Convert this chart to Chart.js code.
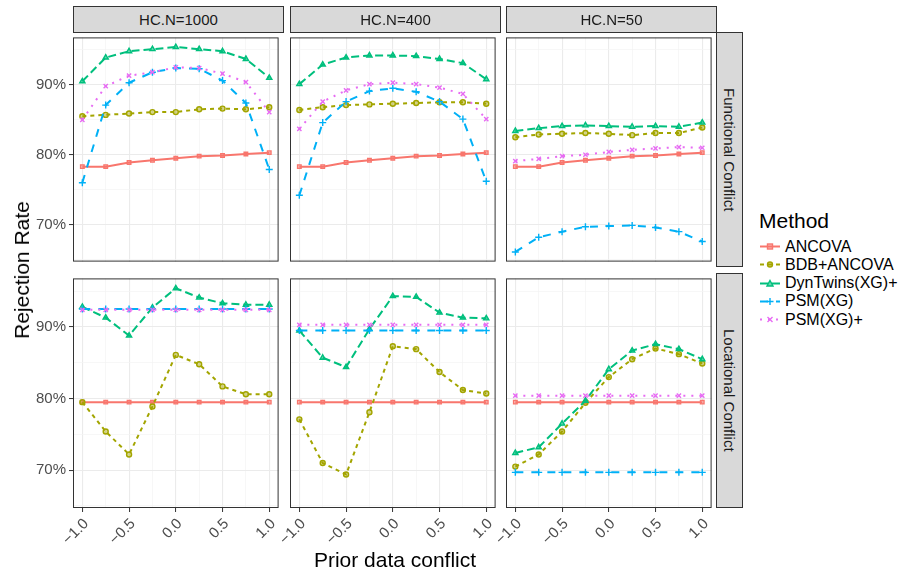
<!DOCTYPE html>
<html>
<head>
<meta charset="utf-8">
<script src="https://cdn.jsdelivr.net/npm/chart.js@4.4.1/dist/chart.umd.min.js"></script>
<style>
  body {
    margin: 0;
    width: 906px;
    height: 569px;
    position: relative;
    overflow: hidden;
    background: #ffffff;
    font-family: "Liberation Sans", Arial, sans-serif;
  }
  canvas {
    position: absolute;
  }
  .strip {
    position: absolute;
    box-sizing: border-box;
    background: #d9d9d9;
    border: 1px solid #333333;
    color: #1a1a1a;
    font-size: 15px;
    display: flex;
    align-items: center;
    justify-content: center;
  }
  .vstrip {
    writing-mode: vertical-rl;
  }
  .title {
    position: absolute;
    font-size: 21px;
    color: #000000;
    white-space: nowrap;
  }
  .legend-title {
    position: absolute;
    left: 759px;
    top: 209px;
    font-size: 21px;
    color: #000000;
  }
  .legend-item {
    position: absolute;
    left: 760px;
    height: 18px;
    display: flex;
    align-items: center;
    font-size: 16px;
    color: #000000;
    white-space: nowrap;
  }
  .legend-item svg {
    margin-right: 5px;
  }
</style>
</head>
<body>
<script>
const conflict = [-1, -0.75, -0.5, -0.25, 0, 0.25, 0.5, 0.75, 1];
const hcN = ["HC.N=1000", "HC.N=400", "HC.N=50"];
const conflictTypes = ["Functional Conflict", "Locational Conflict"];
const methods = ["ANCOVA", "BDB+ANCOVA", "DynTwins(XG)+", "PSM(XG)", "PSM(XG)+"];

const xTickValues = [-1, -0.5, 0, 0.5, 1];
const xTickLabels = ["\u22121.0", "\u22120.5", "0.0", "0.5", "1.0"];
const yTickValues = [70, 80, 90];
const yTickLabels = ["70%", "80%", "90%"];

// Functional conflict, rows are HC.N = 1000, 400, 50
const ancovaFunc = [
  [78.3, 78.3, 78.9, 79.2, 79.5, 79.8, 79.9, 80.1, 80.3],
  [78.3, 78.3, 78.9, 79.2, 79.5, 79.8, 79.9, 80.1, 80.3],
  [78.3, 78.3, 78.9, 79.2, 79.5, 79.8, 79.9, 80.1, 80.3],
];
const bdbFunc = [
  [85.5, 85.7, 85.9, 86.1, 86.1, 86.5, 86.6, 86.5, 86.8],
  [86.4, 86.8, 87.1, 87.2, 87.3, 87.4, 87.5, 87.5, 87.3],
  [82.5, 82.9, 83.0, 83.1, 83.0, 82.8, 83.1, 83.1, 83.9],
];
const dynFunc = [
  [90.5, 93.9, 94.8, 95.1, 95.4, 95.1, 94.8, 93.7, 91.0],
  [90.1, 92.9, 93.9, 94.2, 94.2, 94.1, 93.7, 93.1, 90.8],
  [83.4, 83.8, 84.1, 84.2, 84.1, 84.0, 84.1, 84.0, 84.6],
];
const psmFunc = [
  [76.0, 87.1, 90.3, 91.8, 92.4, 92.3, 90.6, 87.4, 77.9],
  [74.2, 84.6, 87.6, 89.1, 89.5, 89.0, 87.6, 85.1, 76.2],
  [66.1, 68.2, 69.0, 69.7, 69.8, 69.9, 69.6, 69.0, 67.6],
];
const psmPlusFunc = [
  [85.0, 89.8, 91.3, 91.8, 92.5, 92.4, 91.6, 90.4, 86.1],
  [83.7, 87.6, 89.2, 90.1, 90.3, 90.1, 89.6, 88.7, 85.1],
  [79.1, 79.4, 79.8, 80.0, 80.4, 80.7, 80.9, 81.1, 81.0],
];

// Locational conflict, rows are HC.N = 1000, 400, 50
const ancovaLoc = [
  [79.5, 79.5, 79.5, 79.5, 79.5, 79.5, 79.5, 79.5, 79.5],
  [79.5, 79.5, 79.5, 79.5, 79.5, 79.5, 79.5, 79.5, 79.5],
  [79.5, 79.5, 79.5, 79.5, 79.5, 79.5, 79.5, 79.5, 79.5],
];
const bdbLoc = [
  [79.5, 75.4, 72.2, 78.9, 86.1, 84.8, 81.7, 80.6, 80.6],
  [77.1, 71.0, 69.4, 78.1, 87.3, 86.9, 83.7, 81.2, 80.7],
  [70.5, 72.2, 75.4, 79.4, 83.0, 85.5, 87.0, 86.2, 84.9],
];
const dynLoc = [
  [92.8, 91.3, 88.8, 92.7, 95.4, 94.1, 93.3, 93.1, 93.1],
  [89.5, 85.7, 84.4, 89.7, 94.3, 94.2, 92.0, 91.3, 91.2],
  [72.4, 73.2, 76.5, 79.7, 84.1, 86.7, 87.6, 86.9, 85.5],
];
const psmLoc = [
  [92.5, 92.5, 92.5, 92.5, 92.5, 92.5, 92.5, 92.5, 92.5],
  [89.5, 89.5, 89.5, 89.5, 89.5, 89.5, 89.5, 89.5, 89.5],
  [69.7, 69.7, 69.7, 69.7, 69.7, 69.7, 69.7, 69.7, 69.7],
];
const psmPlusLoc = [
  [92.4, 92.4, 92.4, 92.4, 92.4, 92.4, 92.4, 92.4, 92.4],
  [90.3, 90.3, 90.3, 90.3, 90.3, 90.3, 90.3, 90.3, 90.3],
  [80.4, 80.4, 80.4, 80.4, 80.4, 80.4, 80.4, 80.4, 80.4],
];

const funcSeries = [ancovaFunc, bdbFunc, dynFunc, psmFunc, psmPlusFunc];
const locSeries = [ancovaLoc, bdbLoc, dynLoc, psmLoc, psmPlusLoc];

// styling (ggplot default hue palette)
const colors = ["#F8766D", "#A3A500", "#00BF7D", "#00B0F6", "#E76BF3"];
const fills = ["rgba(248,118,109,0.45)", "rgba(163,165,0,0.45)", "rgba(0,191,125,0.6)", "#00B0F6", "#E76BF3"];
const dashes = [[], [4, 4], [8, 4], [8, 8], [2, 6]];
const pointStyles = ["rect", "circle", "triangle", "cross", "crossRot"];
const pointRadii = [2.5, 2.5, 3, 3.5, 3];

const fontFamily = '"Liberation Sans", Arial, sans-serif';
const colLeft = [73, 290, 506];
const rowTop = [32, 273];
const panelW = 211;
const panelH = 235;
const padL = 70;
const padB = 50;
const gridX = [-1, -0.75, -0.5, -0.25, 0, 0.25, 0.5, 0.75, 1];
const gridY = [65, 70, 75, 80, 85, 90, 95];

const panelBorder = {
  id: "panelBorder",
  afterDraw(chart) {
    const a = chart.chartArea;
    const ctx = chart.ctx;
    ctx.save();
    ctx.strokeStyle = "#333333";
    ctx.lineWidth = 1;
    ctx.strokeRect(a.left + 0.5, a.top + 0.5, a.right - a.left - 1, a.bottom - a.top - 1);
    ctx.restore();
  },
};

function isMajor(list, ctx) {
  return ctx.tick ? list.indexOf(ctx.tick.value) !== -1 : true;
}

function makePanel(r, c) {
  const canvas = document.createElement("canvas");
  const w = panelW + padL;
  const h = panelH + (r === 1 ? padB : 0);
  canvas.width = w;
  canvas.height = h;
  canvas.style.left = colLeft[c] - padL + "px";
  canvas.style.top = rowTop[r] + "px";
  canvas.style.width = w + "px";
  canvas.style.height = h + "px";
  document.body.appendChild(canvas);

  const series = r === 0 ? funcSeries : locSeries;
  const datasets = [];
  for (let i = 0; i < methods.length; i++) {
    const points = [];
    for (let j = 0; j < conflict.length; j++) {
      points.push({ x: conflict[j], y: series[i][c][j] });
    }
    datasets.push({
      label: methods[i],
      data: points,
      order: methods.length - i,
      borderColor: colors[i],
      borderWidth: 2,
      borderDash: dashes[i],
      borderCapStyle: "butt",
      tension: 0,
      pointStyle: pointStyles[i],
      pointRadius: pointRadii[i],
      pointBorderWidth: 1.4,
      pointBorderColor: colors[i],
      pointBackgroundColor: fills[i],
    });
  }

  const showX = r === 1;
  const showY = c === 0;

  new Chart(canvas, {
    type: "line",
    data: { datasets: datasets },
    options: {
      responsive: false,
      animation: false,
      layout: { padding: 0 },
      plugins: {
        legend: { display: false },
        tooltip: { enabled: false },
      },
      scales: {
        x: {
          type: "linear",
          min: -1.1,
          max: 1.1,
          afterBuildTicks: (s) => {
            s.ticks = gridX.map((v) => ({ value: v }));
          },
          afterFit: (s) => {
            s.height = showX ? padB : 0;
            s.paddingLeft = 0;
            s.paddingRight = 0;
          },
          border: { display: false },
          grid: {
            color: (ctx) => (isMajor(xTickValues, ctx) ? "#EBEBEB" : "#F3F3F3"),
            lineWidth: (ctx) => (isMajor(xTickValues, ctx) ? 1.1 : 0.7),
            drawTicks: showX,
            tickLength: 4,
            tickWidth: 1,
            tickColor: (ctx) => (isMajor(xTickValues, ctx) ? "#333333" : "rgba(0,0,0,0)"),
          },
          ticks: {
            display: showX,
            autoSkip: false,
            minRotation: 45,
            maxRotation: 45,
            padding: 3,
            labelOffset: 4,
            color: "#4D4D4D",
            font: { size: 15, family: fontFamily },
            callback: (v) => {
              const k = xTickValues.indexOf(v);
              return k === -1 ? "" : xTickLabels[k];
            },
          },
        },
        y: {
          type: "linear",
          min: 64.72,
          max: 96.78,
          afterBuildTicks: (s) => {
            s.ticks = gridY.map((v) => ({ value: v }));
          },
          afterFit: (s) => {
            s.width = padL;
            s.paddingTop = 0;
            s.paddingBottom = 0;
          },
          border: { display: false },
          grid: {
            color: (ctx) => (isMajor(yTickValues, ctx) ? "#EBEBEB" : "#F3F3F3"),
            lineWidth: (ctx) => (isMajor(yTickValues, ctx) ? 1.1 : 0.7),
            drawTicks: showY,
            tickLength: 4,
            tickWidth: 1,
            tickColor: (ctx) => (isMajor(yTickValues, ctx) ? "#333333" : "rgba(0,0,0,0)"),
          },
          ticks: {
            display: showY,
            padding: 3,
            color: "#4D4D4D",
            font: { size: 15, family: fontFamily },
            callback: (v) => {
              const k = yTickValues.indexOf(v);
              return k === -1 ? "" : yTickLabels[k];
            },
          },
        },
      },
    },
    plugins: [panelBorder],
  });
}

function addDiv(cls, text, left, top, width, height) {
  const div = document.createElement("div");
  div.className = cls;
  div.textContent = text;
  div.style.left = left + "px";
  div.style.top = top + "px";
  if (width !== null) div.style.width = width + "px";
  if (height !== null) div.style.height = height + "px";
  document.body.appendChild(div);
  return div;
}

function markerSvg(i) {
  const col = colors[i];
  let mark = "";
  if (i === 0) mark = `<rect x="7.5" y="6" width="5" height="5" fill="${fills[0]}" stroke="${col}" stroke-width="1.4"/>`;
  if (i === 1) mark = `<circle cx="10" cy="8.5" r="2.5" fill="${fills[1]}" stroke="${col}" stroke-width="1.4"/>`;
  if (i === 2) mark = `<polygon points="10,5.5 13,11 7,11" fill="${fills[2]}" stroke="${col}" stroke-width="1.4"/>`;
  if (i === 3) mark = `<path d="M6.5,8.5 H13.5 M10,5 V12" stroke="${col}" stroke-width="1.4"/>`;
  if (i === 4) mark = `<path d="M7.5,6 L12.5,11 M12.5,6 L7.5,11" stroke="${col}" stroke-width="1.4"/>`;
  const dash = dashes[i].length ? `stroke-dasharray="${dashes[i].join(",")}"` : "";
  return `<svg width="20" height="17"><line x1="0" y1="8.5" x2="20" y2="8.5" stroke="${col}" stroke-width="2" ${dash}/>${mark}</svg>`;
}

function renderLegend() {
  addDiv("legend-title", "Method", 759, 209, null, null);
  const centers = [246.5, 264.8, 283.1, 301.4, 319.7];
  for (let i = 0; i < methods.length; i++) {
    const item = document.createElement("div");
    item.className = "legend-item";
    item.style.top = centers[i] - 9 + "px";
    item.innerHTML = markerSvg(i) + "<span>" + methods[i] + "</span>";
    document.body.appendChild(item);
  }
}

for (let r = 0; r < 2; r++) {
  for (let c = 0; c < 3; c++) {
    makePanel(r, c);
  }
}

for (let c = 0; c < 3; c++) {
  addDiv("strip", hcN[c], colLeft[c], 6, panelW, 27);
}
for (let r = 0; r < 2; r++) {
  addDiv("strip vstrip", conflictTypes[r], colLeft[2] + panelW - 1, rowTop[r], 27, panelH);
}

const yTitle = addDiv("title", "Rejection Rate", 22, 270, null, null);
yTitle.style.transform = "translate(-50%, -50%) rotate(-90deg)";
const xTitle = addDiv("title", "Prior data conflict", 395, 560, null, null);
xTitle.style.transform = "translate(-50%, -50%)";

renderLegend();
</script>
</body>
</html>
